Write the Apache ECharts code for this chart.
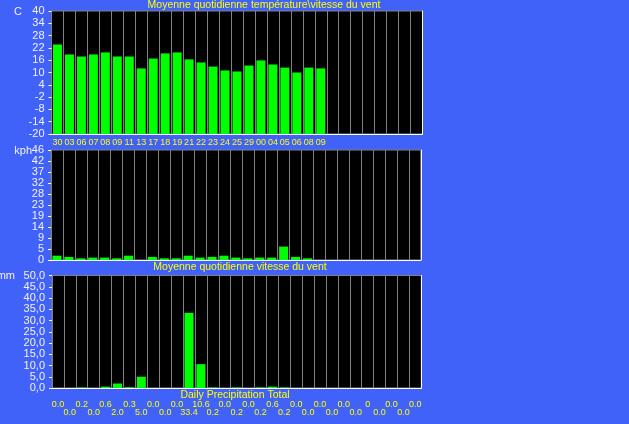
<!DOCTYPE html>
<html>
<head>
<meta charset="utf-8">
<script src="https://cdn.jsdelivr.net/npm/echarts@6/dist/echarts.min.js"></script>
<style>
html,body{margin:0;padding:0;background:#4162f8;}
#c{width:629px;height:424px;}
</style>
</head>
<body>
<div id="c"></div>
<script>
// ---- data ----
const dayLabels = ['30','03','06','07','08','09','11','13','17','18','19','21','22','23','24','25','29','00','04','05','06','08','09','','','','','','','',''];
const tempValues = [23.7, 18.8, 17.8, 18.8, 19.8, 17.8, 17.8, 12.0, 16.8, 19.3, 19.8, 16.4, 14.9, 12.9, 11.0, 10.5, 13.4, 15.9, 13.9, 12.4, 10.0, 12.4, 12.0];
const tempMin = -20, tempMax = 40, tempStep = 6;
const windValues = [1.8, 1.3, 0.7, 1.0, 1.0, 0.7, 1.8, 0, 1.3, 0.7, 0.7, 1.8, 1.0, 1.3, 1.8, 1.0, 0.7, 1.0, 1.0, 5.6, 1.3, 0.7, 0];
const windTickLabels = ['0','5','9','14','19','23','28','32','37','42','46'];
const precipValues = [0.0, 0.0, 0.2, 0.0, 0.6, 2.0, 0.3, 5.0, 0.0, 0.0, 0.0, 33.4, 10.6, 0.2, 0.0, 0.2, 0.0, 0.2, 0.6, 0.2, 0.0, 0.0, 0.0, 0.0, 0.0, 0.0, 0, 0.0, 0.0, 0.0, 0.0];
const precipLabels = ['0.0','0.0','0.2','0.0','0.6','2.0','0.3','5.0','0.0','0.0','0.0','33.4','10.6','0.2','0.0','0.2','0.0','0.2','0.6','0.2','0.0','0.0','0.0','0.0','0.0','0.0','0','0.0','0.0','0.0','0.0'];
const titleTemp = 'Moyenne quotidienne température\\vitesse du vent';
const titleWind = 'Moyenne quotidienne vitesse du vent';
const titlePrecip = 'Daily Precipitation Total';

// ---- style ----
const FONT = 'Liberation Sans, Arial, sans-serif';
const YELLOW = '#ffff00';
const WHITE = '#f2f2ff';
const GRAY = '#808080';
const GREEN = '#00ff00';
const BAR_W = 9;

const grids = [
  {left: 51.5, top: 11, width: 371, height: 123},
  {left: 51, top: 150, width: 369.8, height: 110},
  {left: 52, top: 275.5, width: 369.3, height: 112.5}
].map(g => Object.assign(g, {show: true, backgroundColor: '#000', borderColor: GRAY, borderWidth: 1, containLabel: false}));

function catAxis(gi, data, label) {
  return {
    type: 'category', gridIndex: gi, data: data, boundaryGap: true,
    axisLine: {show: true, onZero: false, lineStyle: {color: '#fff', width: 1}},
    axisTick: {show: false},
    splitLine: {show: true, interval: 0, lineStyle: {color: GRAY, width: 1}},
    axisLabel: label
  };
}
function valAxis(gi, min, max, interval, fmt) {
  return {
    type: 'value', gridIndex: gi, min: min, max: max, interval: interval,
    axisLine: {show: false},
    axisTick: {show: true, length: 3, lineStyle: {color: '#fff'}},
    splitLine: {show: false},
    axisLabel: {color: WHITE, fontFamily: FONT, fontSize: 11, margin: 7, formatter: fmt}
  };
}
function rightAxis(gi) {
  return {
    type: 'value', gridIndex: gi, position: 'right',
    axisLine: {show: true, lineStyle: {color: '#fff', width: 1}},
    axisTick: {show: false}, axisLabel: {show: false}, splitLine: {show: false}
  };
}

const option = {
  backgroundColor: '#4162f8',
  animation: false,
  grid: grids,
  xAxis: [
    catAxis(0, dayLabels, {show: true, interval: 0, color: YELLOW, fontFamily: FONT, fontSize: 9, margin: 4}),
    catAxis(1, dayLabels, {show: false}),
    catAxis(2, precipLabels, {show: true, interval: 0, color: YELLOW, fontFamily: FONT, fontSize: 9, lineHeight: 7.5, margin: 13,
      formatter: (v, i) => (i % 2 === 0 ? v + '\n' : '\n' + v)})
  ],
  yAxis: [
    valAxis(0, tempMin, tempMax, tempStep, v => String(v)),
    valAxis(1, 0, 46, 4.6, v => windTickLabels[Math.round(v / 4.6)]),
    valAxis(2, 0, 50, 5, v => v.toFixed(1).replace('.', ',')),
    rightAxis(0), rightAxis(1), rightAxis(2)
  ],
  series: [
    {
      // temperature bars rise from the bottom of the axis (-20)
      type: 'custom', xAxisIndex: 0, yAxisIndex: 0,
      data: tempValues.map((v, i) => [i, v]),
      encode: {x: 0, y: 1},
      renderItem: function (params, api) {
        const i = api.value(0), v = api.value(1);
        const top = api.coord([i, v]);
        const base = api.coord([i, tempMin]);
        return {type: 'rect', shape: {x: top[0] - BAR_W / 2, y: top[1], width: BAR_W, height: base[1] - top[1]}, style: {fill: GREEN}};
      }
    },
    {type: 'bar', xAxisIndex: 1, yAxisIndex: 1, data: windValues, barWidth: BAR_W, itemStyle: {color: GREEN}},
    {type: 'bar', xAxisIndex: 2, yAxisIndex: 2, data: precipValues, barWidth: BAR_W, itemStyle: {color: GREEN}}
  ],
  graphic: [
    {type: 'text', x: 264, y: 5, style: {text: titleTemp, fill: YELLOW, font: '10.5px ' + FONT, align: 'center', textAlign: 'center', verticalAlign: 'middle', textVerticalAlign: 'middle'}},
    {type: 'text', x: 240, y: 267.5, style: {text: titleWind, fill: YELLOW, font: '10.5px ' + FONT, align: 'center', textAlign: 'center', verticalAlign: 'middle', textVerticalAlign: 'middle'}},
    {type: 'text', x: 235, y: 395.5, style: {text: titlePrecip, fill: YELLOW, font: '10.5px ' + FONT, align: 'center', textAlign: 'center', verticalAlign: 'middle', textVerticalAlign: 'middle'}},
    {type: 'text', x: 22, y: 12, style: {text: 'C', fill: WHITE, font: '11px ' + FONT, align: 'right', textAlign: 'right', verticalAlign: 'middle', textVerticalAlign: 'middle'}},
    {type: 'text', x: 32, y: 151, style: {text: 'kph', fill: WHITE, font: '11px ' + FONT, align: 'right', textAlign: 'right', verticalAlign: 'middle', textVerticalAlign: 'middle'}},
    {type: 'text', x: 15, y: 275.5, style: {text: 'mm', fill: WHITE, font: '11px ' + FONT, align: 'right', textAlign: 'right', verticalAlign: 'middle', textVerticalAlign: 'middle'}}
  ]
};
const chart = echarts.init(document.getElementById('c'), null, {renderer: 'canvas'});
chart.setOption(option);
</script>
</body>
</html>
